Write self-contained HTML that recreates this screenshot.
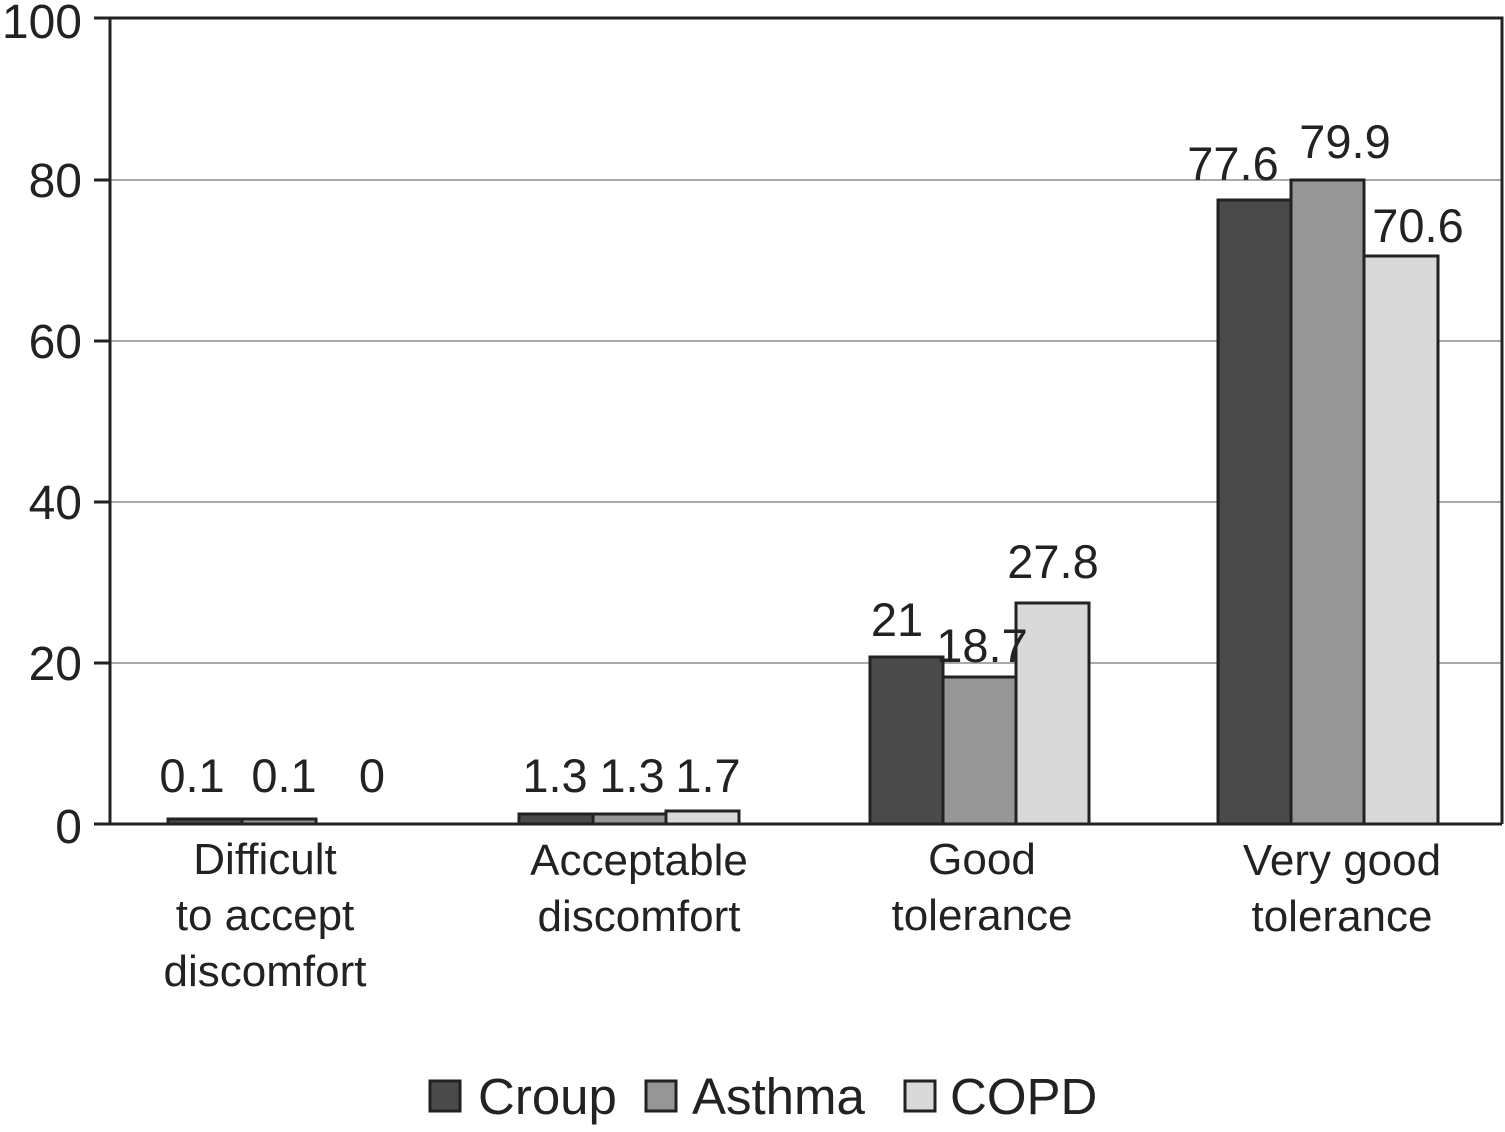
<!DOCTYPE html>
<html><head><style>body{margin:0;background:#fff}</style></head><body>
<svg width="1505" height="1127" xmlns="http://www.w3.org/2000/svg" font-family="Liberation Sans, sans-serif" fill="#222">
<rect width="1505" height="1127" fill="#fff"/>
<g stroke="#aaa" stroke-width="2">
<line x1="110" x2="1502" y1="180" y2="180"/><line x1="110" x2="1502" y1="341" y2="341"/>
<line x1="110" x2="1502" y1="502" y2="502"/><line x1="110" x2="1502" y1="663" y2="663"/>
</g>
<g stroke="#222" stroke-width="3">
<g fill="#4a4a4a"><rect x="168" y="819" width="74" height="5"/><rect x="519" y="814" width="74" height="10"/><rect x="870" y="657" width="73" height="167"/><rect x="1218" y="200" width="73" height="624"/></g>
<g fill="#969696"><rect x="242" y="819" width="74" height="5"/><rect x="593" y="814" width="73" height="10"/><rect x="943" y="677" width="73" height="147"/><rect x="1291" y="180" width="73" height="644"/></g>
<g fill="#d9d9d9"><rect x="666" y="811" width="73" height="13"/><rect x="1016" y="603" width="73" height="221"/><rect x="1364" y="256" width="74" height="568"/></g>
</g>
<g stroke="#222" stroke-width="3" fill="none">
<polyline points="110,824 110,18 1502,18 1502,824"/>
<line x1="94" x2="1502" y1="824" y2="824"/>
<line x1="94" x2="110" y1="18" y2="18"/><line x1="94" x2="110" y1="180" y2="180"/><line x1="94" x2="110" y1="341" y2="341"/><line x1="94" x2="110" y1="502" y2="502"/><line x1="94" x2="110" y1="663" y2="663"/>
</g>
<g font-size="48" text-anchor="end">
<text x="82" y="38">100</text><text x="82" y="197">80</text><text x="82" y="358">60</text><text x="82" y="519">40</text><text x="82" y="680">20</text><text x="82" y="843">0</text>
</g>
<g font-size="47" text-anchor="middle">
<text x="192" y="792">0.1</text><text x="284" y="792">0.1</text><text x="372" y="792">0</text>
<text x="555" y="792">1.3</text><text x="632" y="792">1.3</text><text x="708" y="792">1.7</text>
<text x="897" y="636">21</text><text x="982" y="662">18.7</text><text x="1053" y="578">27.8</text>
<text x="1233" y="180">77.6</text><text x="1345" y="158">79.9</text><text x="1418" y="242">70.6</text>
</g>
<g font-size="44" text-anchor="middle">
<text x="265" y="874">Difficult</text><text x="265" y="930">to accept</text><text x="265" y="986">discomfort</text>
<text x="639" y="875">Acceptable</text><text x="639" y="931">discomfort</text>
<text x="982" y="874">Good</text><text x="982" y="930">tolerance</text>
<text x="1342" y="875">Very good</text><text x="1342" y="931">tolerance</text>
</g>
<g stroke="#222" stroke-width="3">
<rect x="430" y="1081" width="30" height="30" fill="#4a4a4a"/>
<rect x="646" y="1081" width="30" height="30" fill="#969696"/>
<rect x="905" y="1081" width="30" height="30" fill="#d9d9d9"/>
</g>
<g font-size="51"><text x="478" y="1114">Croup</text><text x="692" y="1114">Asthma</text><text x="950" y="1114">COPD</text></g>
</svg>
</body></html>
